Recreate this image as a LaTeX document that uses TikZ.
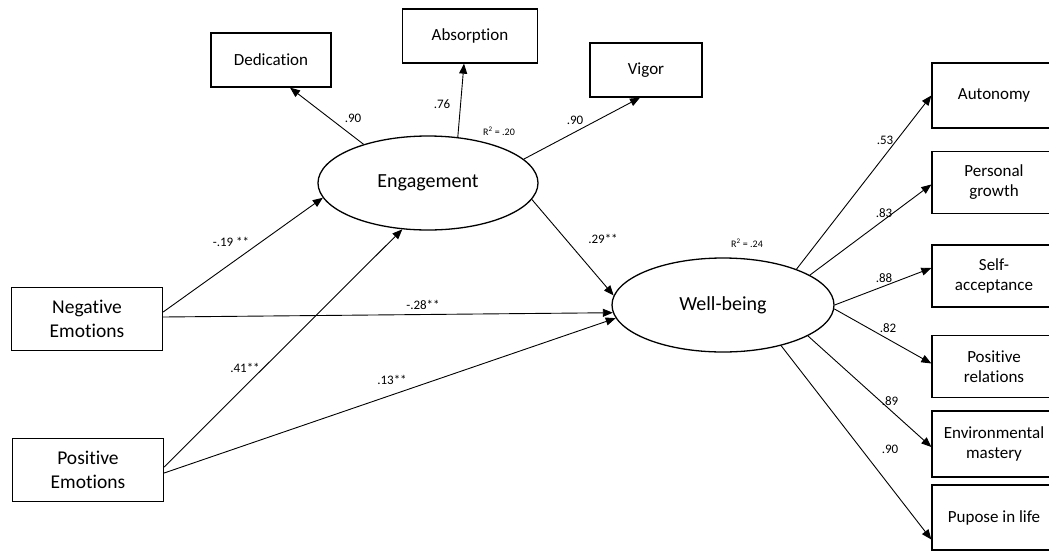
\documentclass[tikz,border=0pt]{standalone}
\usepackage{fontspec}
\setmainfont{Carlito}[Ligatures=NoCommon]
\usepackage{tikz}
\usetikzlibrary{arrows.meta,shapes.geometric,positioning}
\tikzset{
	obsnode/.style = {rectangle, draw=black, line width=1.3pt, align=center, inner sep=0pt,
		font=\fontsize{17}{20}\selectfont},
	obs_l/.style = {obsnode, minimum width=151pt, minimum height=63pt,
		font=\fontsize{19.5}{24}\selectfont},% left, predictors
	obs_r/.style = {obsnode, minimum width=124pt, minimum height=62pt},% right, well-being items
	obs_t/.style = {obsnode, minimum height=54pt},% top, engagement items
	lat/.style = {ellipse, draw=black, line width=1.3pt, minimum width=220pt,
		minimum height=94pt, inner sep=0pt, font=\fontsize{20}{24}\selectfont},
	coef/.style = {inner sep=0pt, font=\fontsize{13}{15}\selectfont},
	rsq/.style = {inner sep=0pt, font=\fontsize{10}{12}\selectfont}
}

\begin{document}
\begin{tikzpicture}[x=1pt,y=-1pt,->,>={Triangle[length=10pt,width=8pt]},line width=0.9pt]
\useasboundingbox (0,0) rectangle (1049,552);
% engagement
\node [lat] (eng) at (428,183) {Engagement};
\node [obs_t, minimum width=120pt] (ded) at (271,60) {Dedication};
\node [obs_t, minimum width=135pt] (abs) at (470,36) {Absorption};
\node [obs_t, minimum width=112pt] (vig) at (646,70) {Vigor};
% predictors
\node [obs_l] (neg) at (87,319) {Negative\\Emotions};
\node [obs_l] (pos) at (88,470) {Positive\\Emotions};
% well-being
\node [lat, minimum width=222pt] (wb) at (723,305) {Well-being};
\node [obs_r, minimum height=65pt] (aut) at (994,95.5) {Autonomy};
\node [obs_r] (pgr) at (994,182.5) {Personal\\growth};
\node [obs_r] (sac) at (994,276) {Self-\\acceptance};
\node [obs_r] (prl) at (994,366.5) {Positive\\relations};
\node [obs_r, minimum height=66pt] (env) at (994,444) {Environmental\\mastery};
\node [obs_r, minimum height=65pt] (pil) at (994,517.5) {Pupose in life};

\draw (eng.149) -- ([xshift=19pt]ded.south);
\draw (eng.57.5) -- ([xshift=-6pt]abs.south);
\draw (eng.14.5) -- ([xshift=-6pt]vig.south);
\draw (eng.-9) -- (wb.175);
\draw ([yshift=7pt]neg.east) -- (eng.188);
\draw ([yshift=2pt]neg.east) -- (wb.184);
\draw ([yshift=3pt]pos.east) -- (eng.241);
\draw ([yshift=-3pt]pos.east) -- (wb.187);
\draw (wb.26) -- (aut.west);
\draw (wb.19) -- ([yshift=-2pt]pgr.west);
\draw (wb.0) -- ([yshift=8pt]sac.west);
\draw (wb.-2) -- ([yshift=3pt]prl.west);
\draw (wb.-20) -- ([yshift=-3pt]env.west);
\draw (wb.-35) -- ([yshift=-22pt]pil.west);

% coefficients
\node [coef] (c_ded) at (353,118) {.90};
\node [coef] (c_abs) at (442,104) {.76};
\node [rsq] (r_eng) at (499,131) {R\textsuperscript{2} = .20};
\node [coef] (c_vig) at (575,120) {.90};
\node [coef] (c_ew) at (603,239) {.29**};
\node [coef] (c_ne) at (231,242) {-.19 **};
\node [coef] (c_nw) at (423,305) {-.28**};
\node [coef] (c_pe) at (245,368) {.41**};
\node [coef] (c_pw) at (392,380) {.13**};
\node [rsq] (r_wb) at (747,243) {R\textsuperscript{2} = .24};
\node [coef] (c_aut) at (885,140) {.53};
\node [coef] (c_pgr) at (884,213) {.83};
\node [coef] (c_sac) at (884,278) {.88};
\node [coef] (c_prl) at (888,328) {.82};
\node [coef] (c_env) at (890,401) {.89};
\node [coef] (c_pil) at (890,449) {.90};
\end{tikzpicture}
\end{document}
